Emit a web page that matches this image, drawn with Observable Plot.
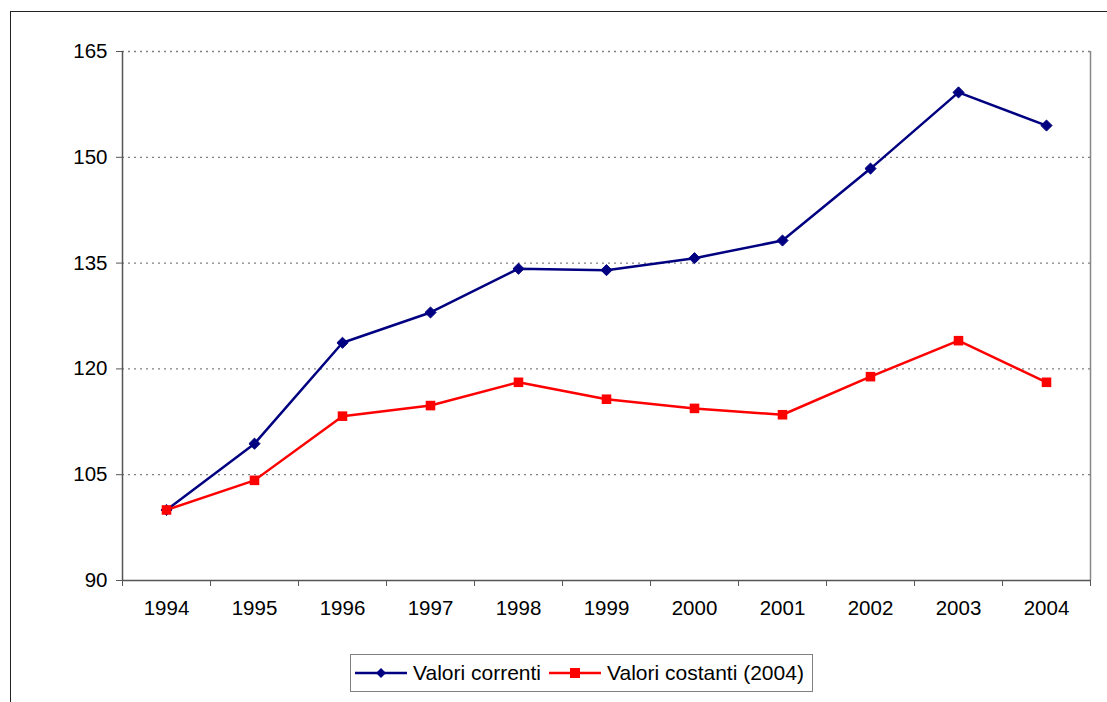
<!DOCTYPE html>
<html>
<head>
<meta charset="utf-8">
<script src="https://cdn.jsdelivr.net/npm/d3@7"></script>
<script src="https://cdn.jsdelivr.net/npm/@observablehq/plot@0.6"></script>
<style>
  html, body { margin: 0; padding: 0; background: #fff; overflow: hidden; }
  body { width: 1107px; height: 702px; position: relative; font-family: "Liberation Sans", Arial, sans-serif; }
  #frame { position: absolute; left: 10px; top: 11px; width: 1120px; height: 720px; border: 1px solid #222; box-sizing: border-box; }
  #chart { position: absolute; left: 0; top: 0; }
  #legend { position: absolute; left: 350px; top: 654px; width: 463px; height: 38px; border: 1px solid #808080; box-sizing: border-box; background: #fff; }
  .item { position: absolute; top: 0; height: 36px; display: flex; align-items: center; font-size: 21px; color: #000; white-space: nowrap; }
  .item svg { margin-right: 6px; }
</style>
</head>
<body>
<div id="frame"></div>
<div id="chart"></div>
<div id="legend"></div>
<script>
const years = [1994, 1995, 1996, 1997, 1998, 1999, 2000, 2001, 2002, 2003, 2004];
const correnti = [100, 109.4, 123.7, 128.0, 134.2, 134.0, 135.7, 138.2, 148.4, 159.2, 154.5];
const costanti = [100, 104.2, 113.3, 114.8, 118.1, 115.7, 114.4, 113.5, 118.9, 124.0, 118.1];
const yTicks = [90, 105, 120, 135, 150, 165];
const seriesNames = ["Valori correnti", "Valori costanti (2004)"];
const seriesColors = ["#000080", "#ff0000"];

const rowsA = years.map((y, i) => ({year: y, value: correnti[i]}));
const rowsB = years.map((y, i) => ({year: y, value: costanti[i]}));
const bounds = years.map(y => y - 0.5).concat([years[years.length - 1] + 0.5]);

const chart = Plot.plot({
  width: 1107,
  height: 640,
  marginLeft: 122,
  marginRight: 17,
  marginTop: 51,
  marginBottom: 60,
  style: {fontFamily: "'Liberation Sans', Arial, sans-serif", fontSize: "20.5px", color: "#000", background: "transparent", overflow: "visible"},
  x: {domain: [bounds[0], bounds[bounds.length - 1]]},
  y: {domain: [90, 165]},
  marks: [
    Plot.gridY(yTicks.slice(1), {stroke: "#808080", strokeOpacity: 1, strokeWidth: 1.3, strokeDasharray: "2,4"}),
    Plot.ruleX([bounds[bounds.length - 1]], {stroke: "#888", strokeWidth: 1.5}),
    Plot.ruleY([90], {stroke: "#555", strokeWidth: 1.5}),
    Plot.ruleX([bounds[0]], {stroke: "#555", strokeWidth: 1.5}),
    Plot.axisY({ticks: yTicks, tickSize: 6, tickPadding: 9, stroke: "#555", tickFormat: d => String(d), label: null, fill: "#000", fontSize: 20.5}),
    Plot.axisX({ticks: bounds, tickSize: 6, tickFormat: () => "", stroke: "#555", label: null}),
    Plot.axisX({ticks: years, tickSize: 0, tickPadding: 20, tickFormat: d => String(d), label: null, fill: "#000", fontSize: 20.5}),
    Plot.line(rowsA, {x: "year", y: "value", stroke: seriesColors[0], strokeWidth: 2.5}),
    Plot.line(rowsB, {x: "year", y: "value", stroke: seriesColors[1], strokeWidth: 2.5}),
    Plot.dot(rowsA, {x: "year", y: "value", symbol: "diamond2", r: 5, fill: seriesColors[0], stroke: seriesColors[0], strokeWidth: 1}),
    Plot.dot(rowsB, {x: "year", y: "value", symbol: "square", r: 5.4, fill: seriesColors[1]})
  ]
});
document.getElementById("chart").appendChild(chart);

// Legend
const legend = document.getElementById("legend");
const positions = [4, 198];
const markers = [
  '<polygon points="26,1 31,6 26,11 21,6" fill="#000080"/>',
  '<rect x="21" y="1" width="10" height="10" fill="#ff0000"/>'
];
seriesNames.forEach((name, i) => {
  const div = document.createElement("div");
  div.className = "item";
  div.style.left = positions[i] + "px";
  div.innerHTML = `<svg width="52" height="12"><line x1="0" y1="6" x2="52" y2="6" stroke="${seriesColors[i]}" stroke-width="2.5"/>${markers[i]}</svg><span>${name}</span>`;
  legend.appendChild(div);
});
</script>
</body>
</html>
